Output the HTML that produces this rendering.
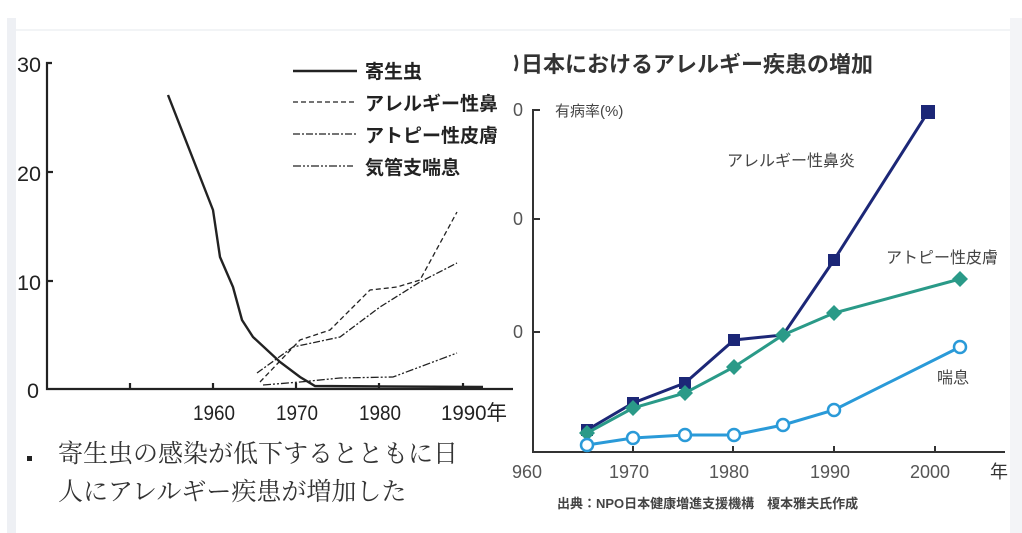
<!DOCTYPE html>
<html><head><meta charset="utf-8"><style>
html,body{margin:0;padding:0;background:#fff;width:1022px;height:533px;overflow:hidden}
svg{display:block}
.t{font-family:"Liberation Sans","Noto Sans CJK JP",sans-serif}
</style></head><body>
<svg width="1022" height="533" viewBox="0 0 1022 533" xmlns="http://www.w3.org/2000/svg">
<rect x="7" y="18" width="9" height="515" fill="#eef0f4"/>
<line x1="16" y1="30" x2="1010" y2="30" stroke="#e6e8ec" stroke-width="1"/>
<rect x="1010" y="18" width="12" height="515" fill="#f3f4f7"/>
<!-- LEFT PANEL -->
<g class="t" fill="#222" font-size="21">
<text x="17" y="72" textLength="24" lengthAdjust="spacingAndGlyphs">30</text>
<text x="17" y="181" textLength="24" lengthAdjust="spacingAndGlyphs">20</text>
<text x="17" y="290" textLength="24" lengthAdjust="spacingAndGlyphs">10</text>
<text x="27" y="398" textLength="12" lengthAdjust="spacingAndGlyphs">0</text>
<text x="193" y="420" textLength="42" lengthAdjust="spacingAndGlyphs">1960</text>
<text x="276" y="420" textLength="42" lengthAdjust="spacingAndGlyphs">1970</text>
<text x="359" y="420" textLength="42" lengthAdjust="spacingAndGlyphs">1980</text>
<text x="441" y="420" textLength="66" lengthAdjust="spacingAndGlyphs">1990年</text>
</g>
<g stroke="#222" stroke-width="2.2" fill="none">
<polyline points="52,63 47,63 47,389 513,389"/>
<line x1="47" y1="172" x2="53" y2="172"/><line x1="47" y1="281" x2="53" y2="281"/>
<line x1="130" y1="389" x2="130" y2="383"/><line x1="213" y1="389" x2="213" y2="383"/>
<line x1="296" y1="389" x2="296" y2="383"/><line x1="379" y1="389" x2="379" y2="383"/><line x1="463" y1="389" x2="463" y2="383"/>
<polyline stroke-width="2.4" points="168,95 213,210 220,257 233,287 242,320 253,337 280,362 300,377 315,386 483,387"/>
<polyline stroke-width="1.3" stroke-dasharray="5,3" points="260,382 300,340 330,330 370,290 397,287 420,280 457,212"/>
<polyline stroke-width="1.3" stroke-dasharray="7,2,2,2" points="257,373 293,347 340,337 380,307 420,282 457,263"/>
<polyline stroke-width="1.3" stroke-dasharray="8,2,2,2,2,2" points="263,385 300,382 340,378 393,377 457,353"/>
<line stroke-width="2.4" x1="293" y1="71" x2="357" y2="71"/>
<line stroke-width="1.3" stroke-dasharray="5,3" x1="293" y1="102" x2="357" y2="102"/>
<line stroke-width="1.3" stroke-dasharray="7,2,2,2" x1="293" y1="134" x2="357" y2="134"/>
<line stroke-width="1.3" stroke-dasharray="8,2,2,2,2,2" x1="293" y1="166" x2="353" y2="166"/>
</g>
<g class="t" fill="#222" font-size="19" font-weight="bold">
<text x="365" y="78">寄生虫</text>
<text x="365" y="110">アレルギー性鼻</text>
<text x="365" y="142">アトピー性皮膚</text>
<text x="365" y="174">気管支喘息</text>
</g>
<rect x="27" y="456" width="5" height="5" fill="#222"/>
<g font-family="'Liberation Serif','Noto Serif CJK SC',serif" font-size="25" fill="#333">
<text x="58" y="462">寄生虫の感染が低下するとともに日</text>
<text x="58" y="500">人にアレルギー疾患が増加した</text>
</g>
<!-- RIGHT PANEL -->
<rect x="513" y="31" width="497" height="502" fill="#fff"/>
<text class="t" x="521" y="72" font-size="22" font-weight="bold" fill="#333">日本におけるアレルギー疾患の増加</text>
<path d="M515,55 q4,8 0,16" stroke="#333" stroke-width="2.5" fill="none"/>
<g stroke="#333" stroke-width="2" fill="none">
<polyline points="540,110 533,110 533,452 1005,452"/>
<line x1="533" y1="219" x2="540" y2="219"/><line x1="533" y1="332" x2="540" y2="332"/>
<line x1="633" y1="452" x2="633" y2="446"/><line x1="733" y1="452" x2="733" y2="446"/><line x1="834" y1="452" x2="834" y2="446"/><line x1="935" y1="452" x2="935" y2="446"/>
</g>
<g class="t" fill="#555" font-size="18">
<text x="513" y="116">0</text><text x="513" y="225">0</text><text x="513" y="338">0</text>
<text x="512" y="478">960</text><text x="609" y="478">1970</text><text x="709" y="478">1980</text><text x="810" y="478">1990</text><text x="910" y="478">2000</text>
<text x="990" y="478" fill="#333">年</text>
<text x="555" y="116" font-size="15" fill="#444">有病率(%)</text>
<text x="727" y="166" font-size="16" fill="#444">アレルギー性鼻炎</text>
<text x="886" y="263" font-size="16" fill="#444">アトピー性皮膚</text>
<text x="937" y="383" font-size="16" fill="#444">喘息</text>
<text x="557" y="508" font-size="13" font-weight="bold" fill="#444">出典：NPO日本健康増進支援機構　榎本雅夫氏作成</text>
</g>
<polyline fill="none" stroke="#1c2777" stroke-width="3" points="587,430 633,403 685,383 734,340 783,335 834,260 928,112"/>
<g fill="#1c2777">
<rect x="581" y="424" width="12" height="12"/><rect x="627" y="397" width="12" height="12"/><rect x="679" y="377" width="12" height="12"/><rect x="728" y="334" width="12" height="12"/><rect x="828" y="254" width="12" height="12"/><rect x="921" y="105" width="14" height="14"/>
</g>
<polyline fill="none" stroke="#2a9a88" stroke-width="3" points="587,433 633,408 685,393 734,367 783,335 834,313 960,279"/>
<g fill="#2a9a88">
<path d="M587,425l8,8-8,8-8-8z"/><path d="M633,400l8,8-8,8-8-8z"/><path d="M685,385l8,8-8,8-8-8z"/><path d="M734,359l8,8-8,8-8-8z"/><path d="M783,327l8,8-8,8-8-8z"/><path d="M834,305l8,8-8,8-8-8z"/><path d="M960,271l8,8-8,8-8-8z"/>
</g>
<polyline fill="none" stroke="#2a9ad8" stroke-width="3" points="587,445 633,438 685,435 734,435 783,425 834,410 960,347"/>
<g fill="#fff" stroke="#2a9ad8" stroke-width="2.5">
<circle cx="587" cy="445" r="6"/><circle cx="633" cy="438" r="6"/><circle cx="685" cy="435" r="6"/><circle cx="734" cy="435" r="6"/><circle cx="783" cy="425" r="6"/><circle cx="834" cy="410" r="6"/><circle cx="960" cy="347" r="6"/>
</g>
</svg>
</body></html>
